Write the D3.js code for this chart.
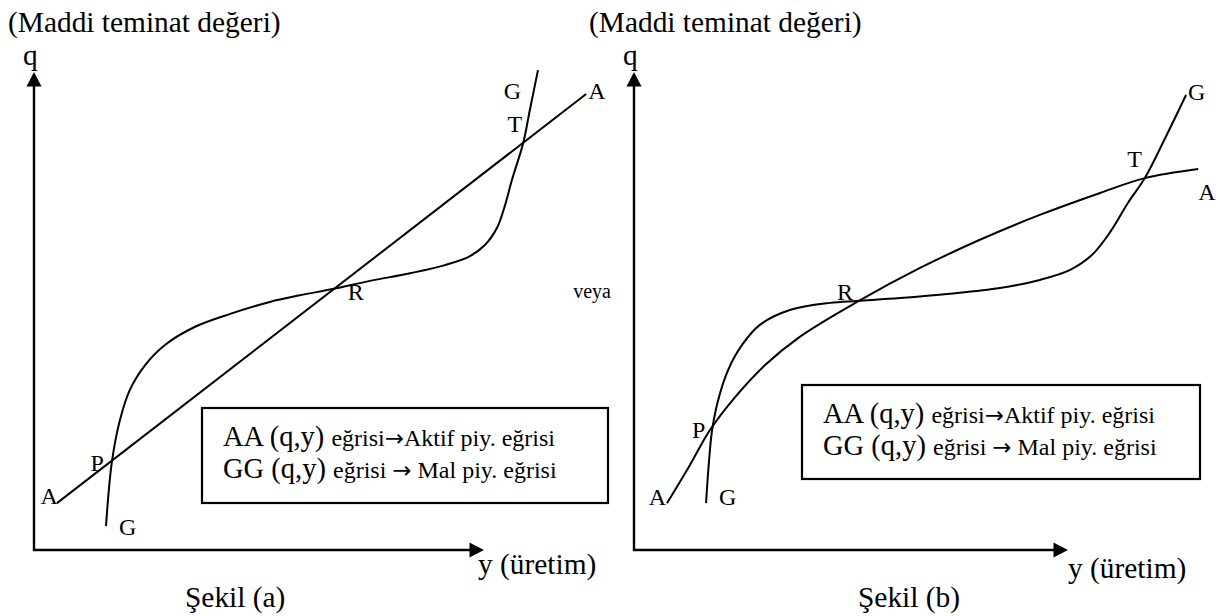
<!DOCTYPE html>
<html>
<head>
<meta charset="utf-8">
<script src="https://cdn.jsdelivr.net/npm/d3@7/dist/d3.min.js"></script>
<style>
  body { margin: 0; background: #fff; }
  svg { display: block; }
  text, tspan { font-family: "Liberation Serif", "Times New Roman", serif; fill: #000; }
</style>
</head>
<body>
<svg id="chart" width="1223" height="616"></svg>
<script>
// ---- Şekil (a): straight AA line, S-shaped GG curve (arbitrary units, axes end at 100)
const aaPointsA = [[5.1, 9.8], [122.7, 95.4]];
const ggPointsA = [
  [16.0, 5.0], [17.3, 18.4], [19.1, 27.2], [21.3, 33.5], [24.7, 38.7],
  [29.1, 42.9], [35.8, 46.7], [43.6, 49.4], [52.4, 51.9], [59.1, 53.3],
  [66.4, 54.6], [74.7, 56.3], [83.6, 57.9], [91.3, 59.6], [96.9, 61.5],
  [100.2, 63.8], [102.9, 67.4], [104.7, 72.2], [106.2, 77.4], [108.7, 85.1],
  [110.2, 92.1], [112.0, 100.4]
];
const crossingNames = ["P", "R", "T"];
const crossingsA = [[17.1, 18.4], [66.4, 54.6], [108.7, 85.1]];

// ---- Şekil (b): concave AA curve, S-shaped GG curve
const aaPointsB = [
  [7.6, 9.8], [12.9, 17.8], [17.5, 25.1], [23.3, 32.0], [30.2, 38.7],
  [38.2, 44.6], [51.4, 51.9], [65.9, 59.0], [79.7, 64.9], [93.5, 70.1],
  [107.4, 74.7], [117.7, 77.8], [130.0, 79.7]
];
const ggPointsB = [
  [16.6, 9.8], [17.3, 18.8], [18.0, 25.1], [19.4, 31.4], [21.7, 37.7],
  [24.9, 42.9], [29.0, 47.1], [35.9, 50.2], [45.2, 51.7], [51.4, 52.1],
  [61.3, 52.7], [72.8, 53.6], [84.3, 54.8], [93.5, 56.5], [100.5, 58.6],
  [105.5, 61.7], [109.7, 66.5], [113.8, 72.6], [117.7, 77.8], [122.4, 86.2],
  [127.2, 95.2]
];
const crossingsB = [[17.6, 24.6], [51.4, 51.9], [117.7, 77.8]];

// ---- texts
const yAxisTitle = "(Maddi teminat değeri)";
const yAxisSymbol = "q";
const xAxisTitle = "y (üretim)";
const figureCaptions = ["Şekil (a)", "Şekil (b)"];
const orWord = "veya";
const legendKeys = ["AA (q,y)", "GG (q,y)"];
const legendBefore = ["eğrisi", "eğrisi "];
const legendAfter = ["Aktif piy. eğrisi", " Mal piy. eğrisi"];
const arrowGlyph = "→";

// ---- layout of the two panels (pixels)
const panels = [
  {
    ox: 34, oy: 550, xEnd: 484, yEnd: 72,
    aa: aaPointsA, gg: ggPointsA, cross: crossingsA, aaCurve: d3.curveLinear,
    titleX: 8, captionX: 185, xTitleDx: -6, xTitleDy: 24,
    legend: { x: 202, y: 408, w: 406, h: 95 },
    // label offsets: [dx, dy, anchor]
    aaStart: [1, 1, "end"], aaEnd: [2, 5, "start"],
    ggStart: [13, 9, "start"], ggEnd: [-17, 29, "end"],
    crossOff: [[-7, 9, "end"], [15, 11, "start"], [-1, -11, "end"]]
  },
  {
    ox: 634, oy: 550, xEnd: 1068, yEnd: 72,
    aa: aaPointsB, gg: ggPointsB, cross: crossingsB, aaCurve: d3.curveCatmullRom,
    titleX: 589, captionX: 858, xTitleDx: 0, xTitleDy: 28,
    legend: { x: 802, y: 385, w: 398, h: 94 },
    aaStart: [-1, 2, "end"], aaEnd: [0, 31, "start"],
    ggStart: [13, 2, "start"], ggEnd: [2, 5, "start"],
    crossOff: [[-5, 6, "end"], [-4, -2, "end"], [-3, -11, "end"]]
  }
];

const svg = d3.select("#chart");
const serif = "Liberation Serif";
const title = 29.4, big = 28.5, small = 24;

panels.forEach((p, i) => {
  const x = d3.scaleLinear().domain([0, 100]).range([p.ox, p.xEnd]);
  const y = d3.scaleLinear().domain([0, 100]).range([p.oy, p.yEnd]);
  const g = svg.append("g");
  const txt = (sel) => sel.attr("font-family", serif);

  // axes with arrowheads
  g.append("path")
    .attr("d", `M${x(0)},${y(100) + 10}V${y(0)}H${x(100) - 10}`)
    .attr("fill", "none").attr("stroke", "#000").attr("stroke-width", 2.4);
  g.append("path")
    .attr("d", `M${x(0)},${y(100)}l-7.5,14.5h15z`)
    .attr("fill", "#000");
  g.append("path")
    .attr("d", `M${x(100)},${y(0)}l-14.5,-7.5v15z`)
    .attr("fill", "#000");

  // axis texts
  txt(g.append("text")).attr("x", p.titleX).attr("y", 32).attr("font-size", title).text(yAxisTitle);
  txt(g.append("text")).attr("x", x(0) - 11).attr("y", 65).attr("font-size", title).text(yAxisSymbol);
  txt(g.append("text")).attr("x", x(100) + p.xTitleDx).attr("y", y(0) + p.xTitleDy)
    .attr("font-size", title).text(xAxisTitle);
  txt(g.append("text")).attr("x", p.captionX).attr("y", 607).attr("font-size", title).text(figureCaptions[i]);

  // curves
  const line = d3.line().x(d => x(d[0])).y(d => y(d[1]));
  g.append("path").attr("d", line.curve(p.aaCurve)(p.aa))
    .attr("fill", "none").attr("stroke", "#000").attr("stroke-width", 2);
  g.append("path").attr("d", line.curve(d3.curveCatmullRom)(p.gg))
    .attr("fill", "none").attr("stroke", "#000").attr("stroke-width", 2);

  // curve end and crossing labels
  const label = (pt, off, s) => txt(g.append("text"))
    .attr("x", x(pt[0]) + off[0]).attr("y", y(pt[1]) + off[1])
    .attr("text-anchor", off[2]).attr("font-size", small).text(s);
  label(p.aa[0], p.aaStart, "A");
  label(p.aa[p.aa.length - 1], p.aaEnd, "A");
  label(p.gg[0], p.ggStart, "G");
  label(p.gg[p.gg.length - 1], p.ggEnd, "G");
  p.cross.forEach((c, k) => label(c, p.crossOff[k], crossingNames[k]));

  // legend box
  const L = p.legend;
  g.append("rect").attr("x", L.x).attr("y", L.y).attr("width", L.w).attr("height", L.h)
    .attr("fill", "none").attr("stroke", "#000").attr("stroke-width", 2.2);
  legendKeys.forEach((k, r) => {
    const t = txt(g.append("text")).attr("x", L.x + 21).attr("y", L.y + 38 + r * 32);
    txt(t.append("tspan")).attr("font-size", big).text(k + " ");
    txt(t.append("tspan")).attr("font-size", small).text(legendBefore[r]);
    t.append("tspan").attr("font-family", "DejaVu Sans").attr("font-size", small * 0.95)
      .style("font-family", "DejaVu Sans").text(arrowGlyph);
    txt(t.append("tspan")).attr("font-size", small).text(legendAfter[r]);
  });

  if (i === 1) {
    txt(g.append("text")).attr("x", x(0) - 23).attr("y", 298)
      .attr("text-anchor", "end").attr("font-size", 20).text(orWord);
  }
});
</script>
</body>
</html>
